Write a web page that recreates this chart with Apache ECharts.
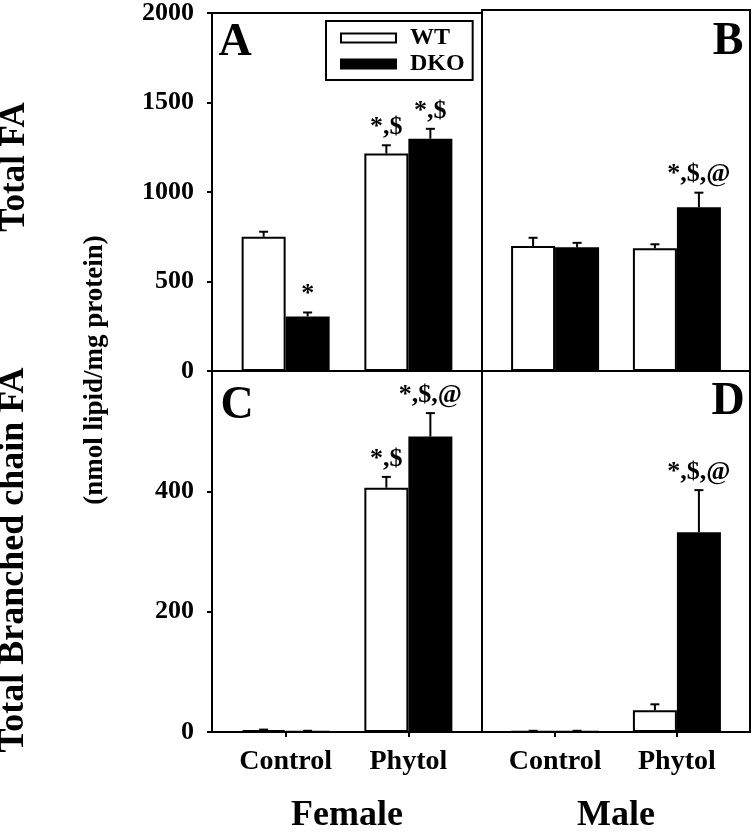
<!DOCTYPE html>
<html><head><meta charset="utf-8">
<script src="https://cdn.jsdelivr.net/npm/echarts@6/dist/echarts.min.js"></script>
<style>html,body{margin:0;padding:0;background:#fff}#c{width:754px;height:835px}</style>
</head><body><div id="c"></div>
<script>
// ---- data ----
const categories = ['Control', 'Phytol'];
const groups = ['Female', 'Male'];
const seriesNames = ['WT', 'DKO'];
const totalTicks = [0, 500, 1000, 1500, 2000];
const branchedTicks = [0, 200, 400];

// Total FA (nmol lipid/mg protein)
const femaleTotalWT = [750, 1215];
const femaleTotalWTErr = [28, 46];
const femaleTotalDKO = [305, 1298];
const femaleTotalDKOErr = [22, 55];
const maleTotalWT = [692, 680];
const maleTotalWTErr = [46, 22];
const maleTotalDKO = [685, 907];
const maleTotalDKOErr = [25, 81];

// Total branched chain FA
const femaleBranchedWT = [3, 406];
const femaleBranchedWTErr = [1, 18];
const femaleBranchedDKO = [0.5, 491];
const femaleBranchedDKOErr = [1.5, 39];
const maleBranchedWT = [0.5, 36];
const maleBranchedWTErr = [1.5, 10];
const maleBranchedDKO = [0.5, 332];
const maleBranchedDKOErr = [1.5, 70];

// significance marks
const femaleTotalWTSig = ['', '*,$'];
const femaleTotalDKOSig = ['*', '*,$'];
const maleTotalWTSig = ['', ''];
const maleTotalDKOSig = ['', '*,$,@'];
const femaleBranchedWTSig = ['', '*,$'];
const femaleBranchedDKOSig = ['', '*,$,@'];
const maleBranchedWTSig = ['', ''];
const maleBranchedDKOSig = ['', '*,$,@'];

const panelLetters = ['A', 'B', 'C', 'D'];

// ---- layout / style ----
const FONT = '"Liberation Serif", "Times New Roman", serif';
const BAR_W = 44;
const CAP = 4.5;

const panels = [
  {grid:{left:212, top:10, width:270, height:361}, col:0, row:0, wt:femaleTotalWT, wtE:femaleTotalWTErr, dko:femaleTotalDKO, dkoE:femaleTotalDKOErr, wtS:femaleTotalWTSig, dkoS:femaleTotalDKOSig, max:2000, ticks:totalTicks},
  {grid:{left:482, top:10, width:268, height:361}, col:1, row:0, wt:maleTotalWT, wtE:maleTotalWTErr, dko:maleTotalDKO, dkoE:maleTotalDKOErr, wtS:maleTotalWTSig, dkoS:maleTotalDKOSig, max:2000, ticks:totalTicks},
  {grid:{left:212, top:371, width:270, height:366}, col:0, row:1, wt:femaleBranchedWT, wtE:femaleBranchedWTErr, dko:femaleBranchedDKO, dkoE:femaleBranchedDKOErr, wtS:femaleBranchedWTSig, dkoS:femaleBranchedDKOSig, max:600, ticks:branchedTicks},
  {grid:{left:482, top:371, width:268, height:366}, col:1, row:1, wt:maleBranchedWT, wtE:maleBranchedWTErr, dko:maleBranchedDKO, dkoE:maleBranchedDKOErr, wtS:maleBranchedWTSig, dkoS:maleBranchedDKOSig, max:600, ticks:branchedTicks}
];

function errRender(sign, labels) {
  return function (params, api) {
    const x = api.value(0), v = api.value(1), e = api.value(2);
    const base = api.coord([x, v]);
    const top = api.coord([x, v + e]);
    const cx = base[0] + sign * BAR_W / 2;
    const children = [
      {type:'line', shape:{x1:cx, y1:base[1], x2:cx, y2:top[1]}, style:{stroke:'#000', lineWidth:2}},
      {type:'line', shape:{x1:cx - CAP, y1:top[1], x2:cx + CAP, y2:top[1]}, style:{stroke:'#000', lineWidth:2}}
    ];
    const t = labels[params.dataIndex];
    if (t) {
      children.push({type:'text', x:cx, y:top[1] - 5,
        style:{text:t, font:'bold 26px ' + FONT, fill:'#000', align:'center', verticalAlign:'bottom', textAlign:'center', textVerticalAlign:'bottom'}});
    }
    return {type:'group', children};
  };
}

const lineStyle = {color:'#000', width:2};
const grid = [], xAxis = [], yAxis = [], series = [];
panels.forEach((p, i) => {
  grid.push(Object.assign({show:true, borderColor:'#000', borderWidth:2, backgroundColor:'transparent'}, p.grid));
  const showX = p.row === 1, showY = p.col === 0;
  xAxis.push({
    type:'value', gridIndex:i, min:-0.6, max:1.6, position:'bottom',
    splitLine:{show:false},
    axisLine:{show:true, onZero:false, lineStyle},
    axisTick:{show:showX, customValues:[0, 1], length:5, lineStyle},
    axisLabel:{show:showX, customValues:[0, 1], formatter:v => categories[Math.round(v)], margin:16,
      fontSize:28, fontWeight:'bold', fontFamily:FONT, color:'#000'},
    name: showX ? groups[p.col] : '', nameLocation:'middle', nameGap:66,
    nameTextStyle:{fontSize:36, fontWeight:'bold', fontFamily:FONT, color:'#000'}
  });
  yAxis.push({
    type:'value', gridIndex:i, min:0, max:p.max, position:'left',
    splitLine:{show:false},
    axisLine:{show:true, onZero:false, lineStyle},
    axisTick:{show:showY, customValues:p.ticks, length:5, lineStyle},
    axisLabel:{show:showY, customValues:p.ticks, formatter:v => String(v), margin:18,
      fontSize:26, fontWeight:'bold', fontFamily:FONT, color:'#000'}
  });
  const wtData = categories.map((c, k) => [k, p.wt[k]]);
  const dkoData = categories.map((c, k) => [k, p.dko[k]]);
  series.push({
    type:'bar', name:seriesNames[0], xAxisIndex:i, yAxisIndex:i, data:wtData,
    barWidth:BAR_W, barGap:'0%',
    itemStyle:{color:'#fff', borderColor:'#000', borderWidth:2}
  });
  series.push({
    type:'bar', name:seriesNames[1], xAxisIndex:i, yAxisIndex:i, data:dkoData,
    barWidth:BAR_W, barGap:'0%',
    itemStyle:{color:'#000', borderColor:'#000', borderWidth:2}
  });
  series.push({
    type:'custom', xAxisIndex:i, yAxisIndex:i, z:5,
    data:categories.map((c, k) => [k, p.wt[k], p.wtE[k]]),
    renderItem:errRender(-1, p.wtS)
  });
  series.push({
    type:'custom', xAxisIndex:i, yAxisIndex:i, z:5,
    data:categories.map((c, k) => [k, p.dko[k], p.dkoE[k]]),
    renderItem:errRender(1, p.dkoS)
  });
});

function txt(text, x, y, size, rot) {
  return {type:'text', x, y, rotation:rot || 0,
    style:{text, font:'bold ' + size + 'px ' + FONT, fill:'#000', align:'center', verticalAlign:'middle', textAlign:'center', textVerticalAlign:'middle'}};
}

const option = {
  animation:false,
  backgroundColor:'#fff',
  grid, xAxis, yAxis, series,
  legend:{
    data:seriesNames, orient:'vertical', left:326, top:21,
    borderColor:'#000', borderWidth:2, padding:[5, 8, 4, 14],
    itemWidth:55, itemHeight:9, itemGap:2, icon:'rect', selectedMode:false,
    itemStyle:{borderColor:'#000', borderWidth:2},
    textStyle:{fontSize:24, fontWeight:'bold', fontFamily:FONT, color:'#000', padding:[0, 0, 0, 9]}
  },
  graphic:[
    txt(panelLetters[0], 235, 43, 46),
    txt(panelLetters[1], 728, 42, 46),
    txt(panelLetters[2], 237, 406, 46),
    txt(panelLetters[3], 728, 402, 46),
    txt('Total FA', 15, 167, 35, Math.PI / 2),
    txt('Total Branched chain FA', 14, 560, 36, Math.PI / 2),
    txt('(nmol lipid/mg protein)', 95, 370, 27, Math.PI / 2)
  ]
};

const chart = echarts.init(document.getElementById('c'), null, {renderer:'canvas'});
chart.setOption(option);
</script>
</body></html>
